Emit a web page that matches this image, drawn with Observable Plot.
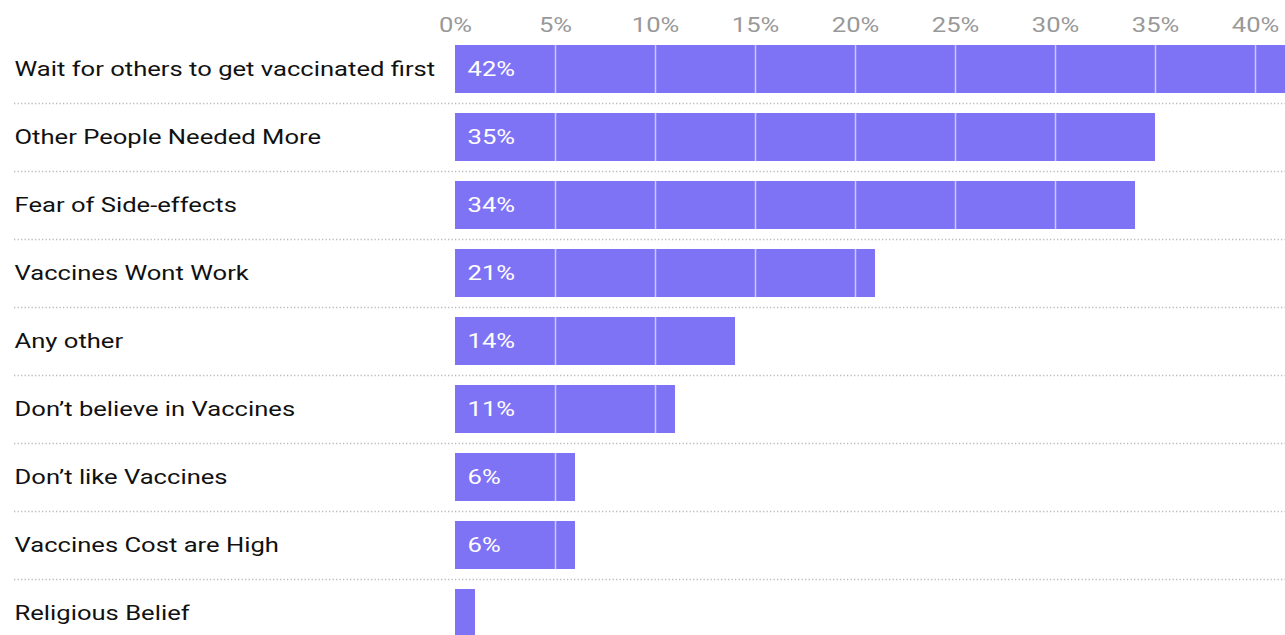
<!DOCTYPE html>
<html><head><meta charset="utf-8">
<script src="https://cdn.jsdelivr.net/npm/d3@7"></script>
<script src="https://cdn.jsdelivr.net/npm/@observablehq/plot@0.6"></script>
<style>
html,body{margin:0;padding:0;background:#fff;overflow:hidden;}
#chart svg{display:block;}
</style>
</head><body><div id="chart"></div>
<script>
const categories = ["Wait for others to get vaccinated first","Other People Needed More","Fear of Side-effects","Vaccines Wont Work","Any other","Don’t believe in Vaccines","Don’t like Vaccines","Vaccines Cost are High","Religious Belief"];
const values = [42, 35, 34, 21, 14, 11, 6, 6, 1];
const labels = ["42%","35%","34%","21%","14%","11%","6%","6%",""];
const ticks = [0, 5, 10, 15, 20, 25, 30, 35, 40];

const rows = categories.map((c, i) => ({cat: c, value: values[i], label: labels[i]}));
const grid = rows.flatMap(r => ticks.filter(t => t > 0 && t < r.value).map(t => ({cat: r.cat, t})));

const font = "Roboto, 'Noto Sans', sans-serif";
const plot = Plot.plot({
  width: 1285,
  height: 635,
  marginLeft: 14,
  marginRight: 0,
  marginTop: 40,
  marginBottom: 0,
  style: {fontFamily: font, background: "#fff"},
  x: {domain: [0, 40], range: [455, 1255], ticks: ticks, tickFormat: d => d + "%"},
  y: {domain: categories, range: [25, 657], padding: 0.294, axis: null},
  marks: [
    Plot.ruleY(categories.slice(1), {y: d => d, dy: -34, stroke: "#bbb", strokeWidth: 1.3, strokeDasharray: "1.3,2.2"}),
    Plot.barX(rows, {y: "cat", x1: 0, x2: "value", fill: "#7f73f5"}),
    Plot.ruleX(grid, {x: "t", y1: "cat", y2: "cat", stroke: "#fff", strokeOpacity: 0.6, strokeWidth: 1.5}),
    Plot.text(rows, {y: "cat", x: 0, text: "label", textAnchor: "start", dx: 12, fill: "#fff", fontSize: 20}),
    Plot.text(rows, {y: "cat", frameAnchor: "left", text: "cat", textAnchor: "start", fill: "#111", fontSize: 20}),
    Plot.axisX({anchor: "top", tickSize: 0, tickPadding: 9, fontSize: 20, color: "#999", label: null, ticks: ticks, tickFormat: d => d + "%"})
  ]
});
// horizontally widen the glyphs as in the reference
const sx = 1.28;
d3.select(plot).selectAll("text").each(function() {
  let tx = 0, ty = 0;
  const xa = this.getAttribute("x"), ya = this.getAttribute("y");
  if (xa !== null && !isNaN(+xa)) { tx = +xa; this.removeAttribute("x"); }
  if (ya !== null && !isNaN(+ya)) { ty = +ya; this.removeAttribute("y"); }
  const t = this.getAttribute("transform") || "";
  this.setAttribute("transform", `${t} translate(${tx},${ty}) scale(${sx},1)`);
});
document.getElementById("chart").appendChild(plot);
</script>
</body></html>
